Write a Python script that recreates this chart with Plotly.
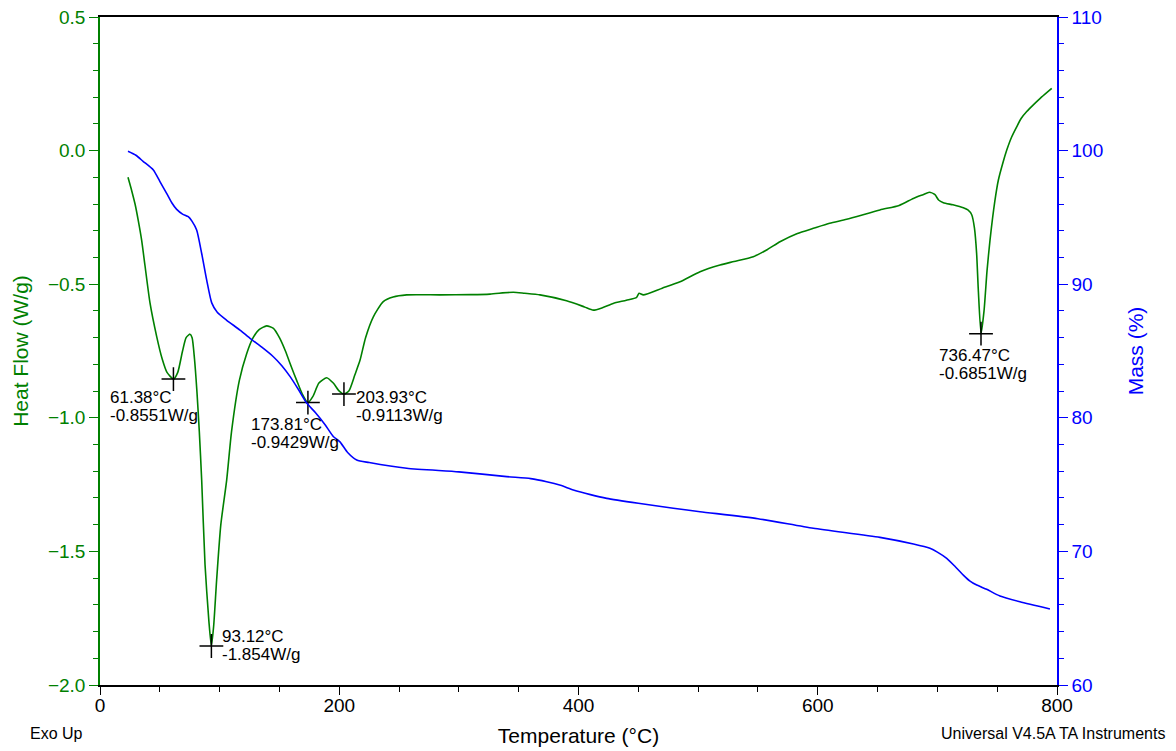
import plotly.graph_objects as go

# Heat flow (W/g) vs temperature (°C)
hf_temp = [23.4, 26.5, 29.3, 32, 34.8, 37.6, 41.8, 47.4, 52, 56, 61.4, 65, 69, 72, 75.2, 77, 79, 81, 83, 85, 87.8, 91, 93.1,
           95, 97.5, 101, 105.9, 110, 116.5, 122.6, 128, 133, 139.3, 145, 150, 155, 160, 164.4, 169, 173.8,
           178, 183, 189.5, 195, 200, 203.9, 208, 213, 217.4, 222, 228.5, 236.8, 245, 256.4, 284.2, 310, 326,
           345.5, 355, 367.8, 390, 405, 412.4, 420, 429, 440, 448.6, 450.6, 454.2, 470, 484.9, 501.6, 518.3,
           530, 546.1, 558, 568.4, 583, 596.3, 610, 624.2, 652, 668, 679.9, 688, 693.3, 698, 701, 705, 713,
           721.7, 725.5, 728.7, 731, 732.8, 734.2, 736.5, 739, 741.5, 744, 748, 751, 754.5, 758, 762, 766.3,
           770, 774.7, 780, 787, 795.6]
hf_val = [-0.10, -0.15, -0.20, -0.262, -0.335, -0.43, -0.57, -0.696, -0.78, -0.83, -0.855, -0.83, -0.75, -0.70, -0.687,
          -0.70, -0.78, -0.90, -1.05, -1.233, -1.55, -1.76, -1.854,
          -1.78, -1.607, -1.40, -1.233, -1.05, -0.86, -0.76, -0.70, -0.67, -0.656, -0.665, -0.70, -0.75, -0.81,
          -0.86, -0.91, -0.943,
          -0.92, -0.87, -0.85, -0.87, -0.90, -0.911, -0.90, -0.84, -0.784, -0.70, -0.622, -0.565, -0.548, -0.540,
          -0.540, -0.539, -0.537,
          -0.530, -0.534, -0.540, -0.562, -0.585, -0.597, -0.588, -0.572, -0.560, -0.549, -0.534, -0.540, -0.515,
          -0.491, -0.453, -0.428,
          -0.415, -0.397, -0.37, -0.341, -0.31, -0.291, -0.272, -0.257, -0.222, -0.205, -0.179, -0.165, -0.156,
          -0.165, -0.185, -0.195, -0.203,
          -0.214, -0.222, -0.240, -0.29, -0.384, -0.52, -0.685, -0.60, -0.45, -0.335, -0.19, -0.11, -0.05, 0.002,
          0.05, 0.089,
          0.12, 0.146, 0.17, 0.20, 0.233]

# Mass (%) vs temperature (°C)
m_temp = [23.4, 30, 36, 44.6, 50, 55.7, 60, 64.1, 69, 73.8, 77, 80.8, 85, 89.2, 93.4, 98, 105.9, 117,
          125.4, 135, 144.9, 152, 158.8, 166, 172.8, 180, 188, 195, 200.6, 207, 214.6, 225, 256.4, 300, 340,
          360, 373.4, 385, 395.7, 410, 423.6, 450, 479.3, 501.6, 550, 596.3, 652, 680, 693.8, 700, 707.8,
          715, 721.7, 727, 732.9, 741.2, 752.3, 769, 794.1]
m_val = [99.95, 99.65, 99.2, 98.55, 97.7, 96.8, 96.1, 95.6, 95.25, 95.05, 94.7, 94.05, 92.3, 90.3, 88.6,
         87.9, 87.3, 86.57, 85.95, 85.3, 84.57, 83.9, 83.1, 82.1, 81.1, 80.4, 79.5, 78.6, 78.2, 77.4, 76.84,
         76.65, 76.22, 75.95, 75.6, 75.45, 75.22, 74.95, 74.6, 74.25, 73.97, 73.6, 73.23, 72.97, 72.45, 71.73,
         71.05, 70.55, 70.23, 69.95, 69.48, 68.85, 68.23, 67.8, 67.48, 67.16, 66.66, 66.23, 65.69]

# Peak annotations
pk_temp = [61.38, 93.12, 173.81, 203.93, 736.47]
pk_hf = [-0.8551, -1.854, -0.9429, -0.9113, -0.6851]
pk_hf_text = ["-0.8551", "-1.854", "-0.9429", "-0.9113", "-0.6851"]
# label offsets (px): horizontal shift of left edge, vertical offset of first line centre below the point
pk_xshift = [-65, 9, -59, 10, -44]
pk_ydown = [18, -9, 22, 3, 22]

GREEN = "#008000"
BLUE = "#0000ff"
FONT = "Liberation Sans, Arial, sans-serif"

fig = go.Figure()
fig.add_trace(go.Scatter(x=hf_temp, y=hf_val, mode="lines",
                         line=dict(color=GREEN, width=1.6, shape="spline", smoothing=0.6),
                         showlegend=False, yaxis="y"))
fig.add_trace(go.Scatter(x=m_temp, y=m_val, mode="lines",
                         line=dict(color=BLUE, width=1.6, shape="spline", smoothing=0.6),
                         showlegend=False, yaxis="y2"))
fig.add_trace(go.Scatter(x=pk_temp, y=pk_hf, mode="markers",
                         marker=dict(symbol="cross-thin", size=17, line=dict(color="black", width=1.5)),
                         showlegend=False, yaxis="y"))

for t, v, txt, xs, yd in zip(pk_temp, pk_hf, pk_hf_text, pk_xshift, pk_ydown):
    for i, line in enumerate([f"{t:.2f}°C", f"{txt}W/g"]):
        fig.add_annotation(x=t, y=v, xref="x", yref="y", text=line, showarrow=False,
                           xanchor="left", yanchor="middle", align="left", xshift=xs, yshift=-(yd + 18 * i),
                           font=dict(family=FONT, size=17, color="black"))

fig.add_annotation(x=0, y=0, xref="paper", yref="paper", text="Exo Up", showarrow=False,
                   xanchor="left", yanchor="middle", xshift=-72, yshift=-48,
                   font=dict(family=FONT, size=16, color="black"))
fig.add_annotation(x=1, y=0, xref="paper", yref="paper", text="Universal V4.5A TA Instruments", showarrow=False,
                   xanchor="right", yanchor="middle", xshift=110, yshift=-48,
                   font=dict(family=FONT, size=16, color="black"))

fig.update_layout(
    width=1176, height=751,
    margin=dict(l=100, r=119, t=17, b=66),
    paper_bgcolor="white", plot_bgcolor="white",
    font=dict(family=FONT, size=19, color="black"),
    xaxis=dict(range=[0, 800], tickvals=[0, 200, 400, 600, 800], ticks="outside", ticklen=8, tickwidth=1.3,
               tickcolor="black", showline=True, linecolor="black", linewidth=1.5, mirror=True,
               showgrid=False, zeroline=False, automargin=False, ticklabelstandoff=-6,
               minor=dict(dtick=50, ticks="outside", ticklen=5, tickcolor="black", tickwidth=1.3),
               title=dict(text="Temperature (°C)", font=dict(size=21), standoff=14),
               tickfont=dict(size=19, color="black")),
    yaxis=dict(range=[-2.0, 0.5], tickvals=[-2.0, -1.5, -1.0, -0.5, 0.0, 0.5], tickformat=".1f",
               ticks="outside", ticklen=9, tickwidth=1.3, tickcolor=GREEN, automargin=False,
               showline=True, linecolor=GREEN, linewidth=1.5, showgrid=False, zeroline=False,
               minor=dict(dtick=0.1, ticks="outside", ticklen=5, tickcolor=GREEN, tickwidth=1.3),
               title=dict(text="Heat Flow (W/g)", font=dict(size=21, color=GREEN), standoff=14),
               tickfont=dict(size=19, color=GREEN)),
    yaxis2=dict(range=[60, 110], overlaying="y", side="right", tickvals=[60, 70, 80, 90, 100, 110],
                ticks="outside", ticklen=9, tickwidth=1.3, tickcolor=BLUE, automargin=False,
                showline=True, linecolor=BLUE, linewidth=1.5, showgrid=False, zeroline=False,
                minor=dict(dtick=2, ticks="outside", ticklen=5, tickcolor=BLUE, tickwidth=1.3),
                title=dict(text="Mass (%)", font=dict(size=21, color=BLUE), standoff=26),
                tickfont=dict(size=19, color=BLUE)),
)

fig.write_html("out.html")
